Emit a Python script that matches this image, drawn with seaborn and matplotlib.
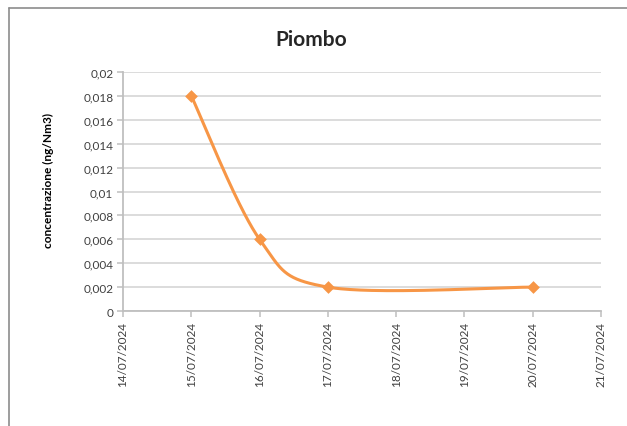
import numpy as np
import pandas as pd
import matplotlib
matplotlib.use("Agg")
import matplotlib.pyplot as plt
import matplotlib.dates as mdates
import seaborn as sns

# data
dates = ["2024-07-15", "2024-07-16", "2024-07-17", "2024-07-20"]
values = [0.018, 0.006, 0.002, 0.002]
y_ticks = [0, 0.002, 0.004, 0.006, 0.008, 0.01, 0.012, 0.014, 0.016, 0.018, 0.02]
x_start = "2024-07-14"
x_end = "2024-07-21"

ORANGE = "#F79646"
GRID = "#D9D9D9"
TEXT = "#404040"


# Excel-like smoothed line (Catmull-Rom converted to cubic Bezier segments)
def smooth_line(x, y, n=60):
    px = list(x)
    py = list(y)
    xs, ys = [], []
    for i in range(len(px) - 1):
        x0, y0 = (px[i - 1], py[i - 1]) if i > 0 else (px[i], py[i])
        x1, y1 = px[i], py[i]
        x2, y2 = px[i + 1], py[i + 1]
        x3, y3 = (px[i + 2], py[i + 2]) if i + 2 < len(px) else (px[i + 1], py[i + 1])
        b1x, b1y = x1 + (x2 - x0) / 6, y1 + (y2 - y0) / 6
        b2x, b2y = x2 - (x3 - x1) / 6, y2 - (y3 - y1) / 6
        t = np.linspace(0, 1, n)
        xs.extend((1-t)**3*x1 + 3*(1-t)**2*t*b1x + 3*(1-t)*t**2*b2x + t**3*x2)
        ys.extend((1-t)**3*y1 + 3*(1-t)**2*t*b1y + 3*(1-t)*t**2*b2y + t**3*y2)
    return np.array(xs), np.array(ys)


sns.set_style("white")
plt.rcParams['font.family'] = ['Lato', 'DejaVu Sans']

df = pd.DataFrame({"Data": pd.to_datetime(dates), "Valore": values})
xnum = mdates.date2num(df["Data"])
sx, sy = smooth_line(xnum, df["Valore"])

fig = plt.figure(figsize=(6.27, 4.27), dpi=100)
ax = fig.add_axes([0.1962, 0.2693, 0.7623, 0.5597])

ax.plot(sx, sy, color=ORANGE, lw=2.2, solid_capstyle="round", zorder=3)
sns.scatterplot(x=xnum, y=df["Valore"], ax=ax, marker="D", s=42,
                color=ORANGE, edgecolor=ORANGE, linewidth=0, zorder=4)

ax.set_xlim(mdates.datestr2num(x_start), mdates.datestr2num(x_end))
ax.set_ylim(0, 0.02)
ax.xaxis.set_major_locator(mdates.DayLocator())
ax.xaxis.set_major_formatter(mdates.DateFormatter("%d/%m/%Y"))
ax.set_yticks(y_ticks)
ax.set_yticklabels(["0" if v == 0 else f"{v:g}".replace(".", ",") for v in y_ticks])

ax.grid(axis="y", color=GRID, lw=1.3)
for s in ["top", "right"]:
    ax.spines[s].set_visible(False)
for s in ["left", "bottom"]:
    ax.spines[s].set_color("#BFBFBF")
    ax.spines[s].set_linewidth(1.3)
ax.tick_params(axis="both", which="both", direction="out", length=4, width=1.1,
               color="#BFBFBF", labelcolor=TEXT, labelsize=8.5, pad=3)
ax.tick_params(axis="x", rotation=90, left=True, bottom=True)
ax.tick_params(axis="y", left=True)

ax.set_xlabel("")
ax.set_ylabel("")
fig.text(0.0766, 0.578, "concentrazione (ng/Nm3)", rotation=90, ha="center", va="center",
         fontsize=8.6, fontweight="bold", color="black")
fig.text(0.4962, 0.906, "Piombo", ha="center", va="center", fontsize=15, fontweight="bold")

# outer chart frame (partly cropped in the reference)
fig.add_artist(plt.Line2D([0.0144, 0.0144], [0, 0.979], color="#8C8C8C", lw=1.2))
fig.add_artist(plt.Line2D([0.0144, 1], [0.979, 0.979], color="#8C8C8C", lw=1.2))

fig.savefig("out.png", dpi=100)
